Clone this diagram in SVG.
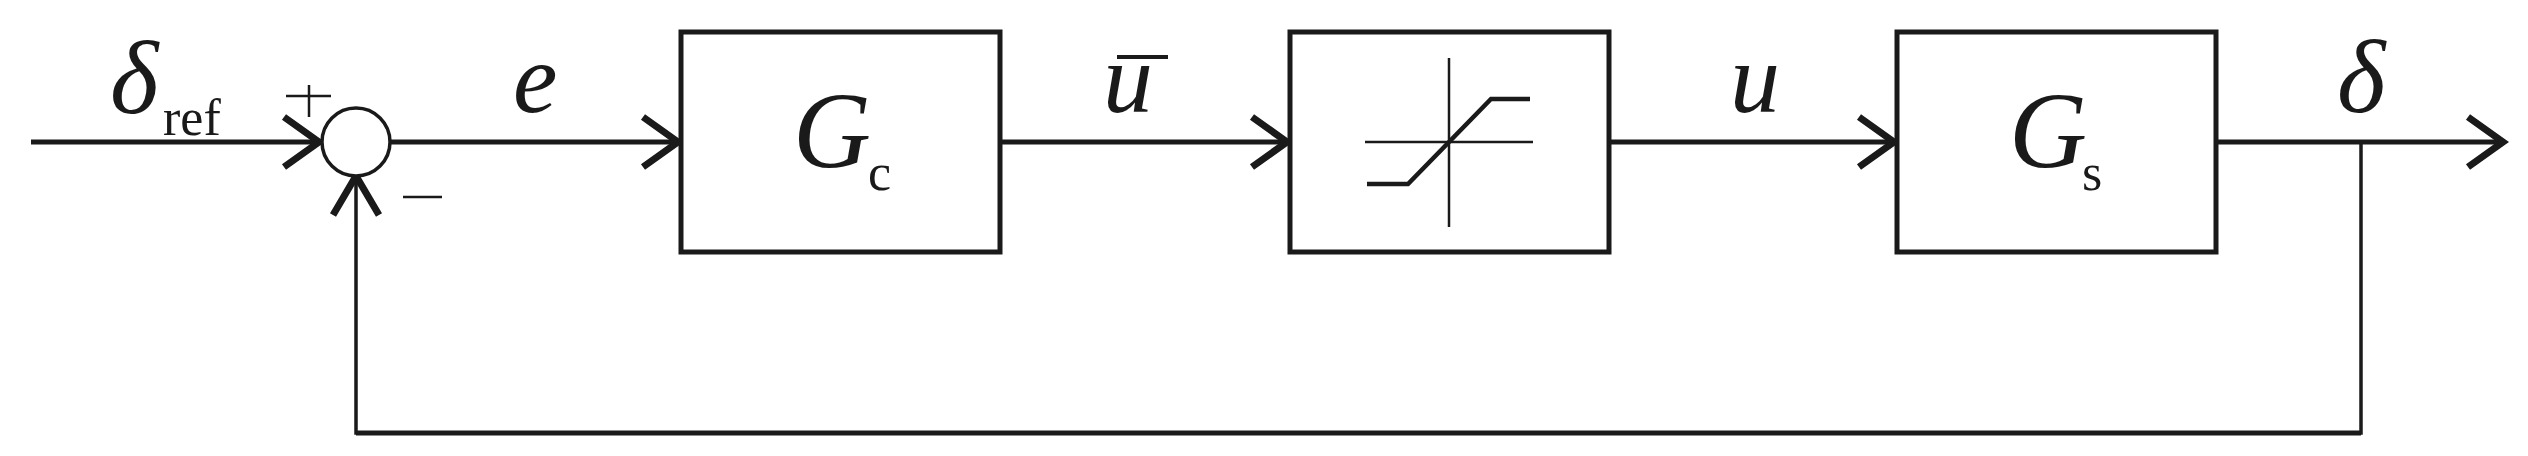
<svg xmlns="http://www.w3.org/2000/svg" width="2528" height="456" viewBox="0 0 2528 456">
<style>
.ln{stroke:#1a1a1a;stroke-width:5;fill:none}
.ah{stroke:#1a1a1a;stroke-width:7;fill:none;stroke-linecap:butt}
.bx{stroke:#1a1a1a;stroke-width:5;fill:#fff}
.th{stroke:#1a1a1a;stroke-width:2.5;fill:none}
.m{font-family:"Liberation Serif",serif;font-style:italic;fill:#1a1a1a}
.s{font-family:"Liberation Serif",serif;fill:#1a1a1a}
</style>
<rect width="2528" height="456" fill="#fff"/>
<g id="connectors">
<line class="ln" x1="31" y1="142" x2="318" y2="142"/>
<polyline class="ah" points="284,117 319,142 284,167"/>
<line class="ln" x1="391" y1="142" x2="678" y2="142"/>
<polyline class="ah" points="643,117 678,142 643,167"/>
<line class="ln" x1="1000" y1="142" x2="1287" y2="142"/>
<polyline class="ah" points="1252,117 1287,142 1252,167"/>
<line class="ln" x1="1609" y1="142" x2="1894" y2="142"/>
<polyline class="ah" points="1859,117 1894,142 1859,167"/>
<line class="ln" x1="2216" y1="142" x2="2503" y2="142"/>
<polyline class="ah" points="2468,117 2503,142 2468,167"/>
<polyline class="th" style="stroke-width:3.5" points="2361,142 2361,433 356,433 356,176"/>
<line class="ln" x1="2361" y1="433" x2="356" y2="433"/>
<polyline class="ah" points="333,215 356,176 379,215"/>
</g>
<g id="sum">
<circle cx="356" cy="142" r="34" fill="#fff" stroke="#1a1a1a" stroke-width="3.5"/>
<line class="th" x1="286" y1="96" x2="331" y2="96"/>
<line class="th" x1="309" y1="85" x2="309" y2="117"/>
<line class="th" x1="403" y1="197" x2="442" y2="197"/>
</g>
<g id="Gc">
<rect class="bx" x="681" y="32" width="319" height="220"/>
<text class="m" x="793" y="167" font-size="108">G</text>
<text class="s" x="868" y="190" font-size="52">c</text>
</g>
<g id="sat">
<rect class="bx" x="1290" y="32" width="319" height="220"/>
<line class="th" x1="1365" y1="142" x2="1533" y2="142"/>
<line class="th" x1="1449" y1="58" x2="1449" y2="227"/>
<polyline points="1367,184 1408,184 1491,99 1530,99" fill="none" stroke="#1a1a1a" stroke-width="4.5"/>
</g>
<g id="Gs">
<rect class="bx" x="1897" y="32" width="319" height="220"/>
<text class="m" x="2009" y="167" font-size="108">G</text>
<text class="s" x="2082" y="190" font-size="52">s</text>
</g>
<g id="labels">
<text class="m" x="110" y="113" font-size="104">δ</text>
<text class="s" x="163" y="135" font-size="52">ref</text>
<text class="m" x="513" y="112" font-size="100">e</text>
<text class="m" x="1103" y="112" font-size="100">u</text>
<line x1="1117" y1="57" x2="1168" y2="57" stroke="#1a1a1a" stroke-width="4"/>
<text class="m" x="1730" y="112" font-size="100">u</text>
<text class="m" x="2337" y="112" font-size="104">δ</text>
</g>
</svg>
